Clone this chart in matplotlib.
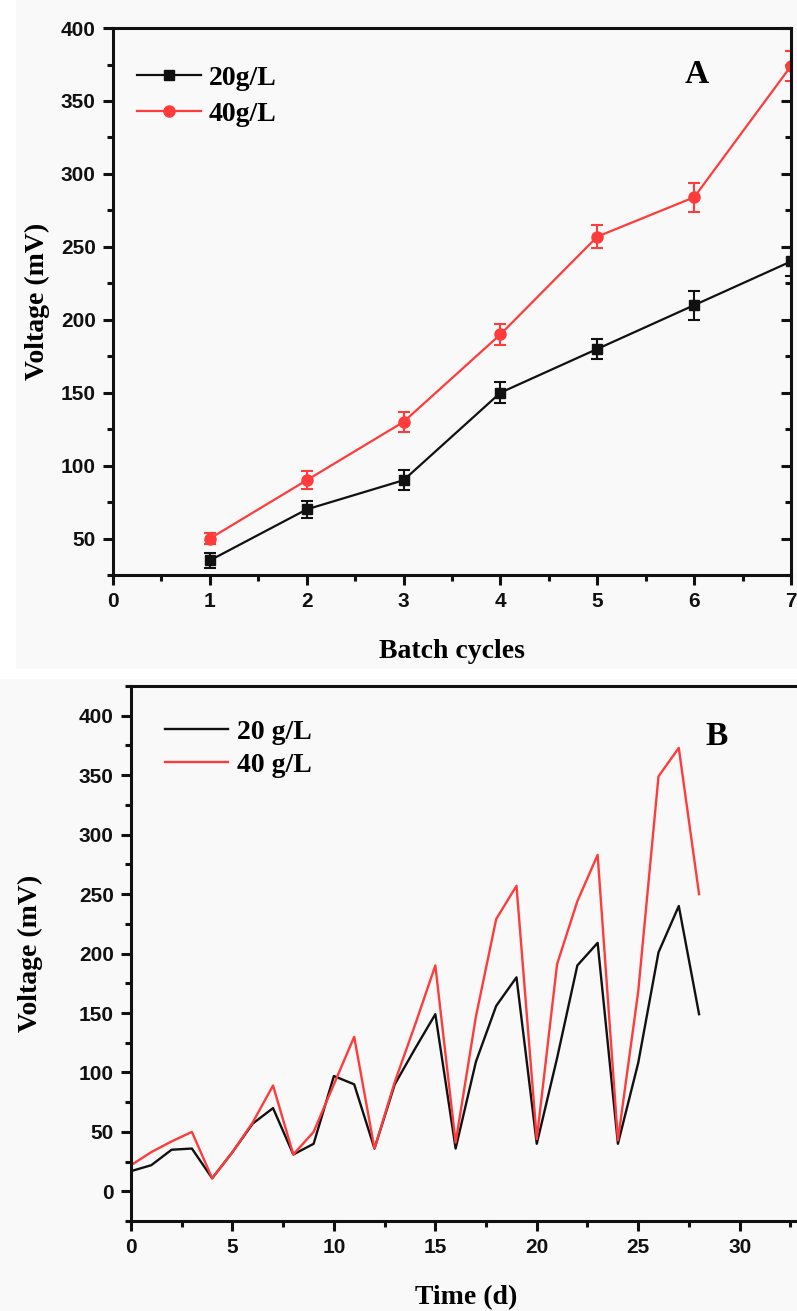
import matplotlib
matplotlib.use("Agg")
import matplotlib.pyplot as plt
from matplotlib.ticker import MultipleLocator
from matplotlib.lines import Line2D

# ---------------- Data ----------------
cycles = [1, 2, 3, 4, 5, 6, 7]
volt20_A = [35, 70, 90, 150, 180, 210, 240]
err20_A = [5, 6, 7, 7, 7, 10, 10]
volt40_A = [50, 90, 130, 190, 257, 284, 374]
err40_A = [4, 6, 7, 7, 8, 10, 10]

days = list(range(0, 29))
volt20_B = [17, 22, 35, 36, 11, 33, 57, 70, 31, 40, 97, 90, 36, 90, 120, 149,
            36, 109, 156, 180, 40, 112, 190, 209, 40, 108, 201, 240, 149]
volt40_B = [22, 33, 42, 50, 11, 33, 58, 89, 31, 50, 90, 130, 36, 92, 140, 190,
            41, 147, 229, 257, 44, 191, 244, 283, 43, 168, 349, 373, 250]

labelsA = ["20g/L", "40g/L"]
labelsB = ["20 g/L", "40 g/L"]

BLACK = "#111111"
RED = "#ff3b3b"
BG = "#f9f9f9"

serif_bold = dict(family="Liberation Serif", weight="bold")
LEG_PROP = dict(family="Liberation Serif", weight="bold", size=20)

fig = plt.figure(figsize=(7.97, 13.11), dpi=100, facecolor="white")
bgA = fig.add_axes([0.02, 0.49, 0.98, 0.51])
bgA.set_facecolor(BG); bgA.set_xticks([]); bgA.set_yticks([])
for s in bgA.spines.values(): s.set_visible(False)
bgB = fig.add_axes([0.0, 0.0, 1.0, 0.482])
bgB.set_facecolor(BG); bgB.set_xticks([]); bgB.set_yticks([])
for s in bgB.spines.values(): s.set_visible(False)

axA = fig.add_axes([0.1418, 0.5614, 0.8507, 0.4172])
axB = fig.add_axes([0.1644, 0.0686, 0.8400, 0.4081])

def style(ax):
    ax.set_facecolor(BG)
    for s in ax.spines.values():
        s.set_linewidth(2.2)
        s.set_color(BLACK)
    ax.tick_params(which="major", direction="out", length=7.5, width=2.2,
                   colors=BLACK, pad=5)
    ax.tick_params(which="minor", direction="out", length=4, width=2.2,
                   colors=BLACK)
    for lab in ax.get_xticklabels() + ax.get_yticklabels():
        lab.set_fontfamily("Liberation Sans")
        lab.set_fontweight("bold")
        lab.set_fontsize(15)

# -------- Panel A --------
stylesA = [dict(color=BLACK, marker="s", ms=7), dict(color=RED, marker="o", ms=8)]
for yv, ev, st, lab in zip([volt20_A, volt40_A], [err20_A, err40_A], stylesA, labelsA):
    axA.errorbar(cycles, yv, yerr=ev, lw=1.6, capsize=4.5, elinewidth=1.5,
                 capthick=1.5, label=lab, **st)
axA.set_xlim(0, 7)
axA.set_ylim(25, 400)
axA.xaxis.set_major_locator(MultipleLocator(1))
axA.xaxis.set_minor_locator(MultipleLocator(0.5))
axA.yaxis.set_minor_locator(MultipleLocator(25))
axA.set_yticks([50, 100, 150, 200, 250, 300, 350, 400])
style(axA)
axA.yaxis.set_tick_params(which="both", right=True)
for t in axA.yaxis.get_major_ticks() + axA.yaxis.get_minor_ticks():
    t.tick2line.set_marker(0)  # inward pointing on right spine
axA.set_xlabel("Batch cycles", fontsize=20, labelpad=20, **serif_bold)
axA.set_ylabel("Voltage (mV)", fontsize=20, labelpad=8, **serif_bold)
handlesA = [Line2D([], [], lw=1.6, **st) for st in stylesA]
axA.legend(handles=handlesA, labels=labelsA, loc="upper left",
           bbox_to_anchor=(0.035, 0.932), frameon=False,
           prop=LEG_PROP, borderpad=0, borderaxespad=0,
           handlelength=2.3, handletextpad=0.3, labelspacing=0.38)
axA.text(0.861, 0.915, "A", transform=axA.transAxes, fontsize=24, ha="center",
         va="center", **serif_bold)

# -------- Panel B --------
axB.plot(days, volt20_B, color=BLACK, lw=1.7, label=labelsB[0])
axB.plot(days, volt40_B, color=RED, lw=1.7, label=labelsB[1])
axB.set_xlim(0, 33)
axB.set_ylim(-25, 425)
axB.xaxis.set_minor_locator(MultipleLocator(2.5))
axB.set_xticks([0, 5, 10, 15, 20, 25, 30])
axB.yaxis.set_minor_locator(MultipleLocator(25))
axB.set_yticks([0, 50, 100, 150, 200, 250, 300, 350, 400])
style(axB)
axB.spines["right"].set_visible(False)
axB.set_xlabel("Time (d)", fontsize=20, labelpad=20, **serif_bold)
axB.set_ylabel("Voltage (mV)", fontsize=20, labelpad=26, **serif_bold)
axB.legend(loc="upper left", bbox_to_anchor=(0.05, 0.937), frameon=False,
           prop=LEG_PROP, borderpad=0, borderaxespad=0,
           handlelength=2.3, handletextpad=0.3, labelspacing=0.26)
axB.text(0.875, 0.905, "B", transform=axB.transAxes, fontsize=24, ha="center",
         va="center", **serif_bold)

fig.savefig("out.png", dpi=100, facecolor="white")
